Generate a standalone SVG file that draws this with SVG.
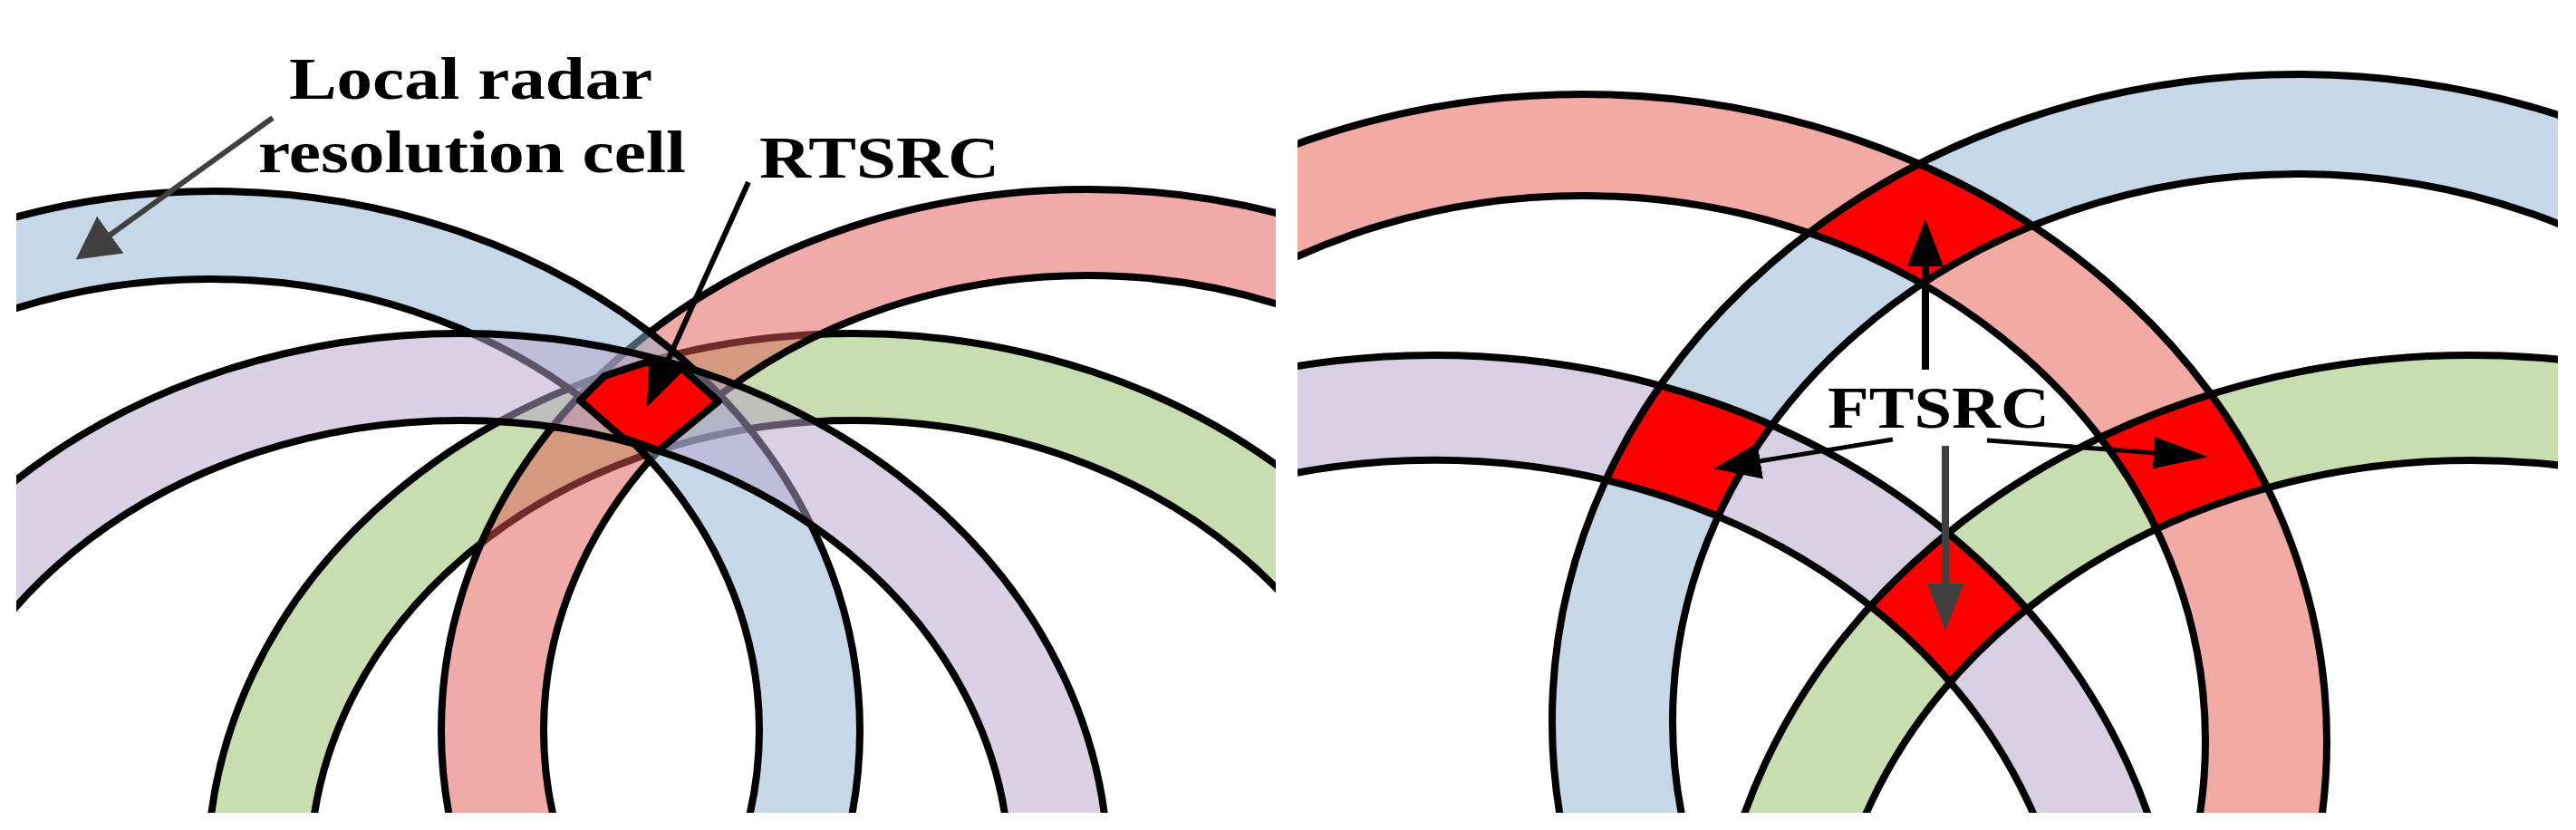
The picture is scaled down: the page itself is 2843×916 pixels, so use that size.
<svg xmlns="http://www.w3.org/2000/svg" width="2843" height="916" viewBox="0 0 2843 916">
<style>
.band{fill-rule:evenodd;stroke:#000;stroke-width:8}
.line{fill:none;stroke:#000;stroke-width:8}
.cell{fill:#f00;fill-rule:evenodd}
.lb{fill:#8fb0d2;fill-opacity:.51}.lr{fill:#e25551;fill-opacity:.5}.lp{fill:#b6a4cc;fill-opacity:.51}.lg{fill:#93bc64;fill-opacity:.51}
.rb{fill:#c6d7e8;fill-rule:evenodd}.rr{fill:#f2aaa5;fill-rule:evenodd}.rp{fill:#d8cfe3;fill-rule:evenodd}.rg{fill:#c8ddb0;fill-rule:evenodd}
.conn{fill:none}
text{font-family:"Liberation Serif","Times New Roman",serif;font-weight:bold;font-size:65px;fill:#000}
</style>
<defs>
<clipPath id="panelL"><rect x="18" y="0" width="1390" height="897"/></clipPath>
<clipPath id="panelR"><rect x="1432" y="0" width="1391" height="897"/></clipPath>
<path id="lBlue" d="M-477,806A713 595 0 1 1 949,806A713 595 0 1 1 -477,806ZM-374,806A606 498 0 1 1 838,806A606 498 0 1 1 -374,806Z"/>
<path id="lRed" d="M487,806A713 597 0 1 1 1913,806A713 597 0 1 1 487,806ZM600,806A600 502 0 1 1 1800,806A600 502 0 1 1 600,806Z"/>
<path id="lPurple" d="M-207,963A715 595 0 1 1 1223,963A715 595 0 1 1 -207,963ZM-98,963A606 499 0 1 1 1114,963A606 499 0 1 1 -98,963Z"/>
<path id="lGreen" d="M229,963A713 595 0 1 1 1655,963A713 595 0 1 1 229,963ZM342,963A600 499 0 1 1 1542,963A600 499 0 1 1 342,963Z"/>
<path id="rRed" d="M926,818A821 714 0 1 1 2568,818A821 714 0 1 1 926,818ZM1060,818A687 602 0 1 1 2434,818A687 602 0 1 1 1060,818Z"/>
<path id="rBlue" d="M1713,796A823 714 0 1 1 3359,796A823 714 0 1 1 1713,796ZM1846,796A690 604 0 1 1 3226,796A690 604 0 1 1 1846,796Z"/>
<path id="rPurple" d="M760,1106A823 714 0 1 1 2406,1106A823 714 0 1 1 760,1106ZM878,1106A705 598 0 1 1 2288,1106A705 598 0 1 1 878,1106Z"/>
<path id="rGreen" d="M1889,1106A838 714 0 1 1 3565,1106A838 714 0 1 1 1889,1106ZM2015,1106A712 598 0 1 1 3439,1106A712 598 0 1 1 2015,1106Z"/>
<clipPath id="cBlue"><use href="#rBlue" clip-rule="evenodd"/></clipPath>
<clipPath id="cGreen"><use href="#rGreen" clip-rule="evenodd"/></clipPath>
<marker id="headBlack" markerUnits="userSpaceOnUse" markerWidth="52" markerHeight="40" refX="20" refY="20" orient="auto"><path d="M0,0L52,20L0,40Z" fill="#000"/></marker>
<marker id="headLong" markerUnits="userSpaceOnUse" markerWidth="60" markerHeight="35" refX="30" refY="17.5" orient="auto"><path d="M0,0L60,17.5L0,35Z" fill="#000"/></marker>
<marker id="headGrey" markerUnits="userSpaceOnUse" markerWidth="52" markerHeight="40" refX="22" refY="20" orient="auto"><path d="M0,0L52,20L0,40Z" fill="#404040"/></marker>
<marker id="headWide" markerUnits="userSpaceOnUse" markerWidth="47" markerHeight="50" refX="17" refY="25" orient="auto"><path d="M0,0L47,25L0,50Z" fill="#404040"/></marker>
</defs>
<rect id="background" width="2843" height="916" fill="#fff"/>
<g id="left-panel" clip-path="url(#panelL)">
<g id="left-green"><use href="#lGreen" class="band lg"/></g>
<g id="left-red"><use href="#lRed" class="band lr"/></g>
<g id="left-blue"><use href="#lBlue" class="band lb"/></g>
<g id="left-purple"><use href="#lPurple" class="band lp"/></g>
<g id="rtsrc-cell"><path d="M640,442L667,415L713,400L753,407L793,443L727,497L687,483Z" fill="#f00" stroke="#000" stroke-width="8" stroke-linejoin="round"/></g>
</g>
<g id="right-panel" clip-path="url(#panelR)">
<g id="right-red"><use href="#rRed" class="rr"/></g>
<g id="right-blue"><use href="#rBlue" class="rb"/></g>
<g id="right-purple"><use href="#rPurple" class="rp"/></g>
<g id="right-green"><use href="#rGreen" class="rg"/></g>
<g id="ftsrc-top" clip-path="url(#cBlue)"><use href="#rRed" class="cell"/></g>
<g id="ftsrc-left" clip-path="url(#cBlue)"><use href="#rPurple" class="cell"/></g>
<g id="ftsrc-right" clip-path="url(#cGreen)"><use href="#rRed" class="cell"/></g>
<g id="ftsrc-bottom" clip-path="url(#cGreen)"><use href="#rPurple" class="cell"/></g>
<g id="right-outlines"><use href="#rRed" class="line"/><use href="#rBlue" class="line"/><use href="#rPurple" class="line"/><use href="#rGreen" class="line"/></g>
</g>
<g id="connectors" class="conn">
<line x1="301" y1="130" x2="108" y2="269" stroke="#404040" stroke-width="6" marker-end="url(#headWide)"/>
<line x1="826" y1="201" x2="727" y2="420" stroke="#000" stroke-width="6" marker-end="url(#headBlack)"/>
<line x1="2125" y1="408" x2="2125" y2="274" stroke="#000" stroke-width="8" marker-end="url(#headBlack)"/>
<line x1="2089" y1="485" x2="1923" y2="512" stroke="#000" stroke-width="5" marker-end="url(#headBlack)"/>
<line x1="2193" y1="486" x2="2407" y2="502" stroke="#000" stroke-width="5" marker-end="url(#headLong)"/>
<line x1="2147" y1="492" x2="2147" y2="666" stroke="#404040" stroke-width="8" marker-end="url(#headGrey)"/>
</g>
<g id="labels">
<text x="319" y="109" textLength="401" lengthAdjust="spacingAndGlyphs">Local radar</text>
<text x="285" y="190" textLength="472" lengthAdjust="spacingAndGlyphs">resolution cell</text>
<text x="838" y="196" textLength="265" lengthAdjust="spacingAndGlyphs">RTSRC</text>
<text x="2017" y="472" textLength="245" lengthAdjust="spacingAndGlyphs">FTSRC</text>
</g>
</svg>
